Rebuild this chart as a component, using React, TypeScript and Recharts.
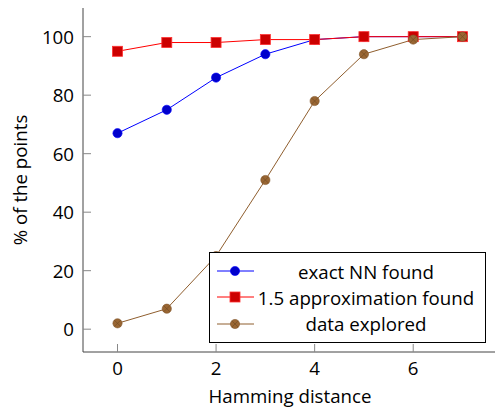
import React from 'react';
import { LineChart, Line, XAxis, YAxis } from 'recharts';

const hamming = [0, 1, 2, 3, 4, 5, 6, 7];
const exactNN = [67, 75, 86, 94, 99, 100, 100, 100];
const approx15 = [95, 98, 98, 99, 99, 100, 100, 100];
const explored = [2, 7, 25, 51, 78, 94, 99, 100];

const xTicks = [0, 2, 4, 6];
const yTicks = [0, 20, 40, 60, 80, 100];

const data = hamming.map((h, i) => ({
  h, exact: exactNN[i], approx: approx15[i], explored: explored[i],
}));

const FONT = '"Open Sans", Lato, sans-serif';
const FS = 18.7;
const TICK = '#888';
const FRAME = '#444';

const SERIES = [
  { key: 'exact', name: 'exact NN found', color: '#0000ff', shape: 'circle' },
  { key: 'approx', name: '1.5 approximation found', color: '#ff0000', shape: 'square' },
  { key: 'explored', name: 'data explored', color: '#8f5e2e', shape: 'otimes' },
];

function Mark({ shape, cx, cy }: { shape: string; cx: number; cy: number }) {
  if (shape === 'circle') {
    return <circle cx={cx} cy={cy} r={4.6} fill="#0000cc" stroke="#0000ff" strokeWidth={0.6} />;
  }
  if (shape === 'square') {
    return <rect x={cx - 5} y={cy - 5} width={10} height={10} fill="#cc0000" stroke="#ff3030" strokeWidth={0.8} />;
  }
  const d = 3.2;
  return (
    <g>
      <circle cx={cx} cy={cy} r={4.6} fill="#996633" stroke="#7f5428" strokeWidth={0.6} />
      <line x1={cx - d} y1={cy - d} x2={cx + d} y2={cy + d} stroke="#6e4a22" strokeWidth={0.6} />
      <line x1={cx - d} y1={cy + d} x2={cx + d} y2={cy - d} stroke="#6e4a22" strokeWidth={0.6} />
    </g>
  );
}

function dotFor(shape: string) {
  return (p: any) => <Mark key={`${shape}-${p.index}`} shape={shape} cx={p.cx} cy={p.cy} />;
}

function BottomTick({ x, y, payload }: any) {
  return (
    <g>
      <line x1={x} x2={x} y1={y} y2={y - 8} stroke={TICK} />
      <text x={x} y={y + 23} textAnchor="middle" fontSize={FS} fill="#000" fontFamily={FONT}>{payload.value}</text>
    </g>
  );
}
function TopTick({ x, y }: any) {
  return <line x1={x} x2={x} y1={y} y2={y + 8} stroke={TICK} />;
}
function LeftTick({ x, y, payload }: any) {
  return (
    <g>
      <line x1={x} x2={x + 8} y1={y} y2={y} stroke={TICK} />
      <text x={x - 9} y={y + 7} textAnchor="end" fontSize={FS} fill="#000" fontFamily={FONT}>{payload.value}</text>
    </g>
  );
}
function RightTick({ x, y }: any) {
  return <line x1={x} x2={x - 8} y1={y} y2={y} stroke={TICK} />;
}

function YLabel({ viewBox }: any) {
  const cx = 19;
  const cy = viewBox.y + viewBox.height / 2;
  return (
    <text x={cx} y={cy} transform={`rotate(-90 ${cx} ${cy})`} textAnchor="middle" dominantBaseline="central"
      fontSize={FS} fill="#000" fontFamily={FONT}>% of the points</text>
  );
}

export default function App() {
  return (
    <div style={{ position: 'absolute', left: 0, top: 0, width: 495, height: 407, overflow: 'hidden', background: '#fff', fontFamily: FONT }}>
      <LineChart width={498} height={407} data={data} margin={{ top: 8, right: 1, bottom: 0, left: 0 }}>
        <XAxis dataKey="h" type="number" domain={[-0.7, 7.7]} ticks={xTicks} allowDataOverflow
          height={55} tickSize={0} tickMargin={0} tick={<BottomTick />} axisLine={{ stroke: FRAME }}
          label={{ value: 'Hamming distance', position: 'insideBottom', offset: 4, fill: '#000', fontSize: FS, fontFamily: FONT }} />
        <XAxis xAxisId="top" orientation="top" dataKey="h" type="number" domain={[-0.7, 7.7]} ticks={xTicks} allowDataOverflow
          height={0} tickSize={0} tickMargin={0} tick={<TopTick />} axisLine={{ stroke: FRAME }} />
        <YAxis type="number" domain={[-7.8, 109.8]} ticks={yTicks} allowDataOverflow width={83}
          tickSize={0} tickMargin={0} tick={<LeftTick />} axisLine={{ stroke: FRAME }}
          label={{ content: <YLabel /> }} />
        <YAxis yAxisId="right" orientation="right" type="number" domain={[-7.8, 109.8]} ticks={yTicks} allowDataOverflow width={0}
          tickSize={0} tickMargin={0} tick={<RightTick />} axisLine={{ stroke: FRAME }} />
        {SERIES.map(s => (
          <Line key={s.key} dataKey={s.key} name={s.name} type="linear" stroke={s.color} strokeWidth={1}
            dot={dotFor(s.shape)} activeDot={false} isAnimationActive={false} />
        ))}
      </LineChart>
      <div style={{
        position: 'absolute', left: 209, top: 252, width: 275, height: 89, border: '1px solid #000',
        background: '#fff', boxSizing: 'content-box',
      }}>
        {SERIES.map((s, i) => (
          <div key={s.key} style={{ position: 'absolute', left: 0, top: 5 + i * 26.3, width: 275, height: 26, display: 'flex', alignItems: 'center' }}>
            <svg width={48} height={26} style={{ flex: 'none' }}>
              <line x1={7} x2={44} y1={13} y2={13} stroke={s.color} strokeWidth={1} />
              <Mark shape={s.shape} cx={25} cy={13} />
            </svg>
            <span style={{ flex: 1, textAlign: 'center', fontSize: FS, color: '#000', whiteSpace: 'nowrap', marginLeft: -11 }}>{s.name}</span>
          </div>
        ))}
      </div>
    </div>
  );
}
